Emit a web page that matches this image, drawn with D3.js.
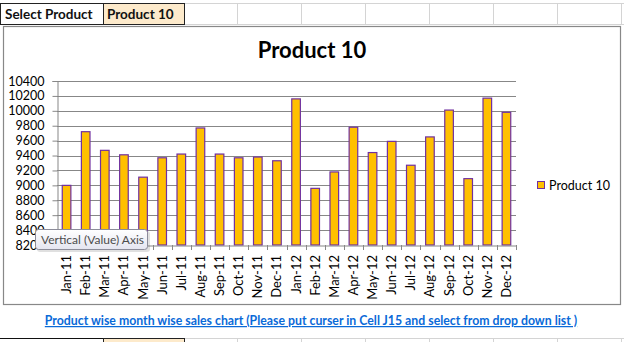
<!DOCTYPE html>
<html>
<head>
<meta charset="utf-8">
<script src="https://cdn.jsdelivr.net/npm/d3@7"></script>
<style>
  html, body { margin: 0; padding: 0; background: #fff; }
  svg { display: block; }
</style>
</head>
<body>
<svg id="sheet" width="624" height="342"></svg>
<script>
// Monthly sales for the selected product
const months = ["Jan-11","Feb-11","Mar-11","Apr-11","May-11","Jun-11","Jul-11","Aug-11","Sep-11","Oct-11","Nov-11","Dec-11",
                "Jan-12","Feb-12","Mar-12","Apr-12","May-12","Jun-12","Jul-12","Aug-12","Sep-12","Oct-12","Nov-12","Dec-12"];
const sales = [9000, 9720, 9470, 9410, 9110, 9370, 9420, 9770, 9420, 9370, 9380, 9330,
               10160, 8960, 9180, 9780, 9440, 9590, 9270, 9650, 10010, 9090, 10170, 9980];
const yTicks = [8200, 8400, 8600, 8800, 9000, 9200, 9400, 9600, 9800, 10000, 10200, 10400];
const productName = "Product 10";
const selectLabel = "Select Product";
const noteText = "Product wise month wise sales chart (Please put curser in Cell J15 and select from drop down list )";
const tooltipText = "Vertical (Value) Axis";

const svg = d3.select("#sheet");
const font = "Lato, 'Open Sans', sans-serif";

// ---- spreadsheet cells around the chart ----
const colLines = [237, 301, 365, 429, 493, 557, 621];
const grid = svg.append("g").attr("stroke", "#d4d4d4").attr("stroke-width", 1);
grid.append("line").attr("x1", 185).attr("x2", 624).attr("y1", 3.5).attr("y2", 3.5);
grid.append("line").attr("x1", 185).attr("x2", 624).attr("y1", 24.5).attr("y2", 24.5);
grid.append("line").attr("x1", 185).attr("x2", 624).attr("y1", 338.5).attr("y2", 338.5);
colLines.forEach(x => {
  grid.append("line").attr("x1", x + 0.5).attr("x2", x + 0.5).attr("y1", 3).attr("y2", 25);
  grid.append("line").attr("x1", x + 0.5).attr("x2", x + 0.5).attr("y1", 338).attr("y2", 342);
});

// selection cells
svg.append("rect").attr("x", 0.5).attr("y", 3.5).attr("width", 103).attr("height", 21)
  .attr("fill", "#fff").attr("stroke", "#222");
svg.append("rect").attr("x", 103.5).attr("y", 3.5).attr("width", 81).attr("height", 21)
  .attr("fill", "#fdeacb").attr("stroke", "#222");
svg.append("text").attr("x", 5).attr("y", 19).text(selectLabel)
  .attr("font-family", font).attr("font-weight", "bold").attr("font-size", 13.5).attr("fill", "#111");
svg.append("text").attr("x", 107).attr("y", 19).text(productName)
  .attr("font-family", font).attr("font-weight", "bold").attr("font-size", 13.5).attr("fill", "#111");

// cells in the row beneath
svg.append("line").attr("x1", 0).attr("x2", 103).attr("y1", 338.5).attr("y2", 338.5).attr("stroke", "#111");
svg.append("rect").attr("x", 103.5).attr("y", 338.5).attr("width", 81).attr("height", 6)
  .attr("fill", "#fdeacb").attr("stroke", "#222");

// ---- chart area ----
svg.append("rect").attr("x", 3.5).attr("y", 26.5).attr("width", 617).attr("height", 278)
  .attr("fill", "#fff").attr("stroke", "#888").attr("stroke-width", 1.2);

svg.append("text").attr("x", 312).attr("y", 58).attr("text-anchor", "middle")
  .text(productName)
  .attr("font-family", font).attr("font-weight", "bold").attr("font-size", 22).attr("fill", "#000");

const plot = { left: 57, right: 516, top: 81, bottom: 245 };

const x = d3.scaleBand().domain(months).range([plot.left, plot.right])
  .paddingInner(0.55).paddingOuter(0.275);
const y = d3.scaleLinear().domain([8200, 10400]).range([plot.bottom, plot.top]);

// horizontal gridlines
svg.append("g").selectAll("line").data(yTicks.slice(1)).join("line")
  .attr("x1", plot.left).attr("x2", plot.right)
  .attr("y1", d => Math.round(y(d)) + 0.5).attr("y2", d => Math.round(y(d)) + 0.5)
  .attr("stroke", "#878787").attr("stroke-width", 1);

// bars
svg.append("g").selectAll("rect").data(sales).join("rect")
  .attr("x", (d, i) => x(months[i]))
  .attr("width", x.bandwidth())
  .attr("y", d => y(d))
  .attr("height", d => y(8200) - y(d))
  .attr("fill", "#ffc000")
  .attr("stroke", "#7030a0")
  .attr("stroke-width", 1.2);

// value axis
const yAxis = svg.append("g").attr("transform", `translate(${plot.left + 0.5},0)`)
  .call(d3.axisLeft(y).tickValues(yTicks).tickSize(5).tickPadding(8).tickFormat(d3.format("d")));
yAxis.select(".domain").attr("stroke", "#878787");
yAxis.selectAll(".tick line").attr("stroke", "#878787");
yAxis.selectAll(".tick text").attr("font-family", font).attr("font-size", 12.5).attr("fill", "#000");

// category axis: ticks sit between categories
const xAxis = svg.append("g").attr("transform", `translate(0,${plot.bottom + 0.5})`)
  .call(d3.axisBottom(x).tickSize(0).tickSizeOuter(0).tickFormat(""));
xAxis.select(".domain").attr("stroke", "#878787");
const step = x.step();
svg.append("g").selectAll("line").data(d3.range(months.length + 1)).join("line")
  .attr("x1", i => Math.round(plot.left + i * step) + 0.5)
  .attr("x2", i => Math.round(plot.left + i * step) + 0.5)
  .attr("y1", plot.bottom).attr("y2", plot.bottom + 5)
  .attr("stroke", "#878787");
svg.append("g").selectAll("text").data(months).join("text")
  .attr("transform", d => `translate(${x(d) + x.bandwidth() / 2 + 4.5},${plot.bottom + 10}) rotate(-90)`)
  .attr("text-anchor", "end")
  .text(d => d)
  .attr("font-family", font).attr("font-size", 13).attr("fill", "#000");

// legend
svg.append("rect").attr("x", 537.5).attr("y", 181.5).attr("width", 7).attr("height", 7)
  .attr("fill", "#ffc000").attr("stroke", "#7030a0");
svg.append("text").attr("x", 549).attr("y", 190).text(productName)
  .attr("font-family", font).attr("font-size", 12.5).attr("fill", "#000");

// hover tooltip over the value axis
const tip = svg.append("g");
const defs = svg.append("defs");
const grad = defs.append("linearGradient").attr("id", "tipFill").attr("x1", 0).attr("x2", 0).attr("y1", 0).attr("y2", 1);
grad.append("stop").attr("offset", "0%").attr("stop-color", "#ffffff");
grad.append("stop").attr("offset", "100%").attr("stop-color", "#e4e5f0");
tip.append("rect").attr("x", 37).attr("y", 231).attr("width", 113).attr("height", 21).attr("rx", 3)
  .attr("fill", "#000").attr("opacity", 0.12);
tip.append("rect").attr("x", 35.5).attr("y", 229.5).attr("width", 112).attr("height", 20).attr("rx", 3)
  .attr("fill", "url(#tipFill)").attr("stroke", "#8c8c99");
tip.append("text").attr("x", 41).attr("y", 244).text(tooltipText)
  .attr("font-family", font).attr("font-size", 12).attr("fill", "#4c4c4c");

// hyperlink note under the chart
svg.append("text").attr("x", 311).attr("y", 325).attr("text-anchor", "middle")
  .text(noteText)
  .attr("font-family", font).attr("font-weight", "bold").attr("font-size", 12.3)
  .attr("fill", "#0a6ad8").attr("text-decoration", "underline");
</script>
</body>
</html>
